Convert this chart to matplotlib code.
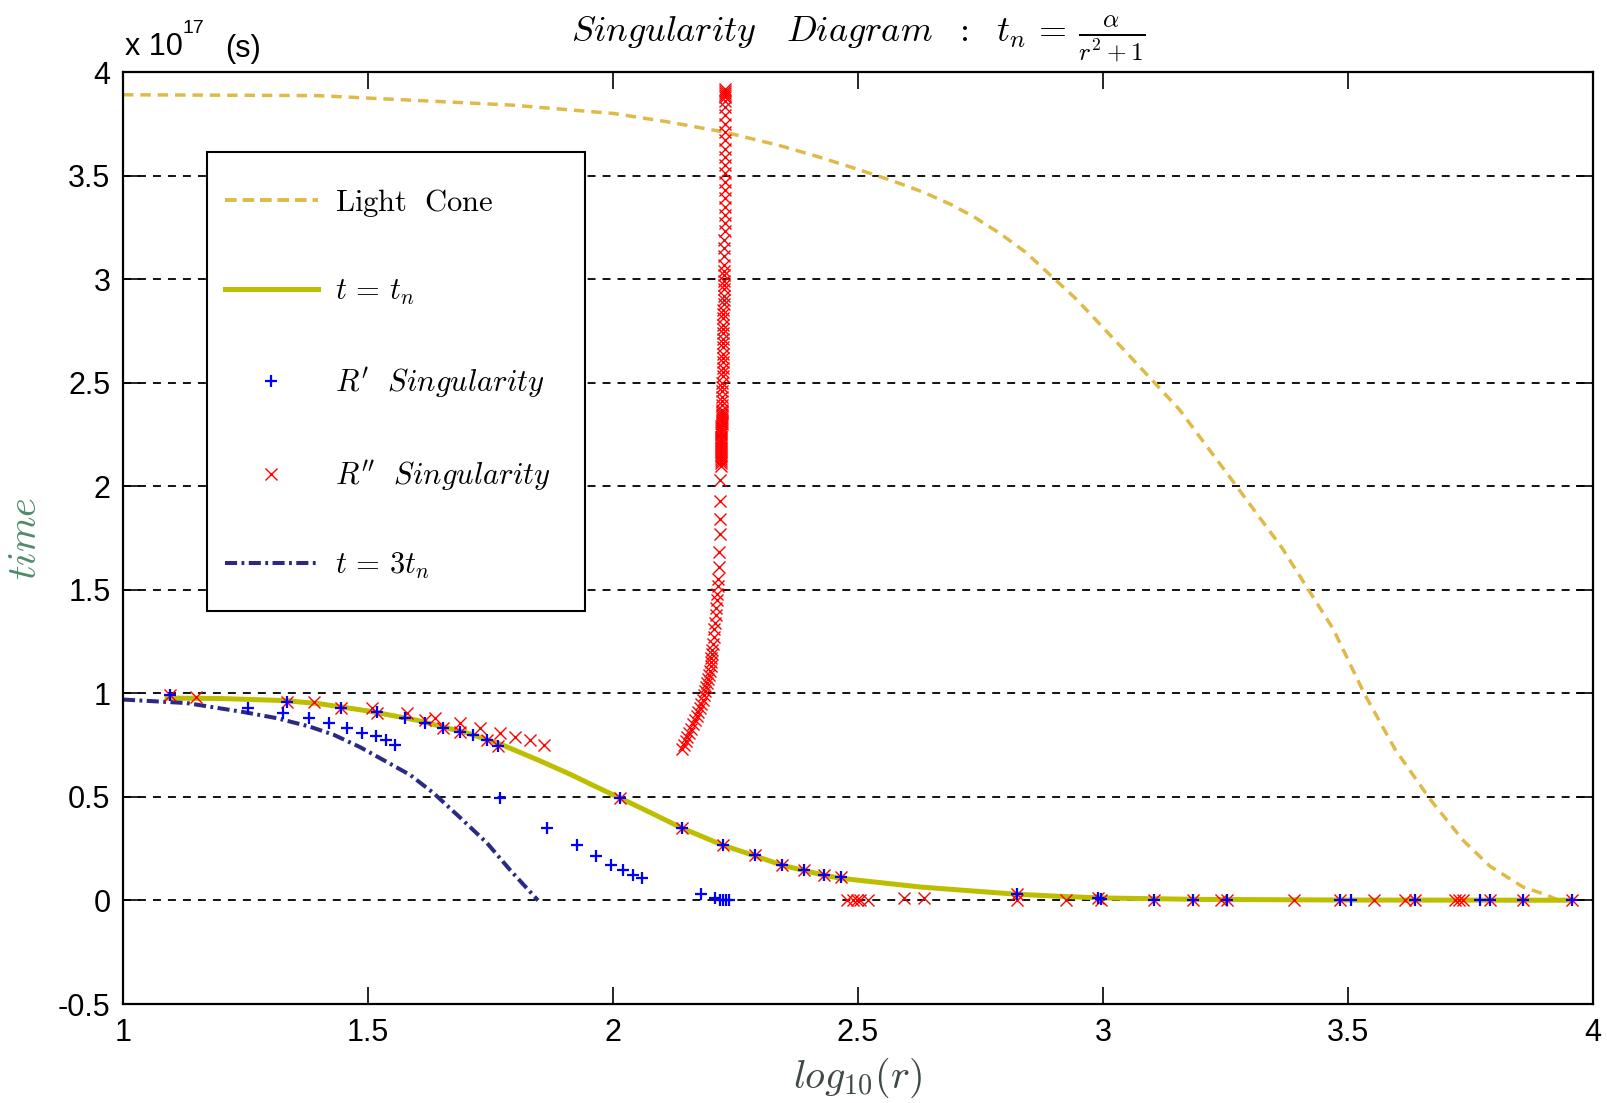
import matplotlib
matplotlib.use('Agg')
import matplotlib.pyplot as plt
from matplotlib.lines import Line2D
from matplotlib.patches import Rectangle

plt.rcParams['mathtext.fontset'] = 'cm'
plt.rcParams['font.family'] = ['Liberation Sans', 'DejaVu Sans']

# ---------------- data ----------------
x_ticks = [1, 1.5, 2, 2.5, 3, 3.5, 4]
x_tick_labels = ['1', '1.5', '2', '2.5', '3', '3.5', '4']
y_ticks = [-0.5, 0, 0.5, 1, 1.5, 2, 2.5, 3, 3.5, 4]
y_tick_labels = ['-0.5', '0', '0.5', '1', '1.5', '2', '2.5', '3', '3.5', '4']

# Light cone (units of 1e17 s)
lc_x = [1.0, 1.398, 1.795, 2.0, 2.11, 2.227, 2.34, 2.42, 2.5, 2.57, 2.633,
        2.69, 2.737, 2.79, 2.842, 2.947, 3.05, 3.156, 3.26, 3.366, 3.47,
        3.533, 3.596, 3.667, 3.735, 3.79, 3.857, 3.906, 3.93]
lc_y = [3.89, 3.886, 3.84, 3.80, 3.76, 3.71, 3.645, 3.59, 3.53, 3.475, 3.42,
        3.36, 3.30, 3.22, 3.13, 2.90, 2.64, 2.37, 2.04, 1.70, 1.31,
        1.00, 0.73, 0.49, 0.29, 0.165, 0.065, 0.026, 0.0]

# t = t_n
tn_x = [1.09, 1.2, 1.33, 1.4, 1.5, 1.6, 1.7, 1.77, 1.85, 1.912, 1.96, 2.014,
        2.08, 2.14, 2.224, 2.29, 2.345, 2.39, 2.43, 2.465, 2.53, 2.627, 2.71,
        2.824, 2.91, 3.0, 3.2, 3.5, 3.957]
tn_y = [0.977, 0.975, 0.965, 0.95, 0.915, 0.87, 0.81, 0.755, 0.675, 0.61,
        0.555, 0.495, 0.42, 0.35, 0.267, 0.215, 0.17, 0.145, 0.122, 0.107,
        0.09, 0.065, 0.05, 0.03, 0.02, 0.012, 0.005, 0.002, 0.001]

# t = 3 t_n
t3_x = [1.0, 1.13, 1.245, 1.314, 1.38, 1.43, 1.484, 1.539, 1.586, 1.633,
        1.688, 1.743, 1.79, 1.847]
t3_y = [0.97, 0.953, 0.91, 0.88, 0.84, 0.80, 0.74, 0.668, 0.606, 0.52,
        0.40, 0.277, 0.147, 0.0]

# R' singularity (blue +)
rp_x = [1.096, 1.255, 1.327, 1.335, 1.38, 1.42, 1.445, 1.457, 1.488, 1.516,
        1.518, 1.537, 1.555, 1.576, 1.616, 1.653, 1.688, 1.714, 1.743, 1.765,
        1.769, 1.865, 1.927, 1.965, 1.996, 2.02, 2.04, 2.06, 2.014, 2.14,
        2.18, 2.208, 2.218, 2.224, 2.23, 2.236, 2.224, 2.29, 2.345, 2.39,
        2.43, 2.465, 2.824, 2.99, 2.995, 3.104, 3.184, 3.253, 3.484, 3.506,
        3.637, 3.77, 3.79, 3.857, 3.957]
rp_y = [0.99, 0.93, 0.905, 0.96, 0.88, 0.857, 0.93, 0.832, 0.81, 0.794,
        0.91, 0.775, 0.75, 0.88, 0.857, 0.832, 0.813, 0.80, 0.775, 0.745,
        0.495, 0.35, 0.267, 0.214, 0.17, 0.147, 0.123, 0.108, 0.495, 0.35,
        0.03, 0.01, 0.0, 0.0, 0.0, 0.0, 0.267, 0.22, 0.17, 0.147,
        0.123, 0.113, 0.03, 0.01, 0.005, 0.003, 0.003, 0.003, 0.003, 0.003,
        0.003, 0.003, 0.003, 0.003, 0.003]

# R'' singularity (red x), scattered points
rpp_x = [1.096, 1.15, 1.335, 1.39, 1.445, 1.508, 1.518, 1.58, 1.616, 1.637,
         1.653, 1.688, 1.688, 1.729, 1.743, 1.769, 1.80, 1.83, 1.86, 1.765,
         2.014, 2.14, 2.224, 2.29, 2.345, 2.39, 2.43, 2.465,
         2.478, 2.49, 2.497, 2.504, 2.52, 2.594, 2.635,
         2.824, 2.824, 2.924, 2.99, 2.995, 3.104, 3.184, 3.24, 3.253, 3.39,
         3.484, 3.553, 3.616, 3.637, 3.718, 3.727, 3.735, 3.79, 3.857, 3.957]
rpp_y = [0.99, 0.98, 0.96, 0.96, 0.93, 0.93, 0.905, 0.905, 0.87, 0.88,
         0.832, 0.857, 0.813, 0.832, 0.775, 0.81, 0.79, 0.775, 0.75, 0.745,
         0.495, 0.35, 0.267, 0.22, 0.17, 0.147, 0.123, 0.113,
         0.0, 0.0, 0.0, 0.0, 0.0, 0.01, 0.01,
         0.03, 0.0, 0.0, 0.01, 0.0, 0.0, 0.0, 0.0, 0.0, 0.0,
         0.0, 0.0, 0.0, 0.0, 0.0, 0.0, 0.0, 0.0, 0.0, 0.0]

# R'' singularity, near-vertical branch around log10(r) ~ 2.2
col_x = [2.229, 2.229, 2.229, 2.229, 2.229, 2.229, 2.229, 2.229, 2.229, 2.229,
         2.229, 2.229, 2.228, 2.228, 2.228, 2.228, 2.228, 2.228, 2.228, 2.228,
         2.228, 2.228, 2.227, 2.227, 2.227, 2.227, 2.227, 2.227, 2.226, 2.226,
         2.226, 2.226, 2.226, 2.226, 2.225, 2.225, 2.225, 2.225, 2.225, 2.225,
         2.225, 2.224, 2.224, 2.224, 2.224, 2.224, 2.224, 2.224, 2.224, 2.223,
         2.223, 2.223, 2.223, 2.223, 2.223, 2.222, 2.222, 2.222, 2.222, 2.222,
         2.222, 2.222, 2.222, 2.221, 2.221, 2.221, 2.221, 2.221, 2.221, 2.221,
         2.221, 2.221, 2.220, 2.220, 2.220, 2.220, 2.220, 2.220, 2.220, 2.220,
         2.220, 2.220, 2.220, 2.219, 2.219, 2.218, 2.218, 2.217, 2.216, 2.215,
         2.214, 2.213, 2.212, 2.211, 2.210, 2.208, 2.207, 2.206, 2.205, 2.203,
         2.202, 2.201, 2.200, 2.199, 2.197, 2.196, 2.194, 2.192, 2.190, 2.188,
         2.186, 2.183, 2.180, 2.177, 2.174, 2.171, 2.168, 2.164, 2.160, 2.156,
         2.152, 2.148, 2.144, 2.140]
col_y = [3.92, 3.91, 3.90, 3.89, 3.88, 3.86, 3.83, 3.79, 3.75, 3.71,
         3.67, 3.63, 3.59, 3.55, 3.51, 3.47, 3.43, 3.39, 3.35, 3.31,
         3.27, 3.23, 3.19, 3.15, 3.11, 3.07, 3.04, 3.02, 2.99, 2.97,
         2.95, 2.92, 2.90, 2.88, 2.85, 2.83, 2.81, 2.78, 2.76, 2.74,
         2.71, 2.69, 2.67, 2.64, 2.62, 2.60, 2.57, 2.55, 2.53, 2.50,
         2.48, 2.46, 2.43, 2.41, 2.39, 2.37, 2.36, 2.35, 2.34, 2.33,
         2.32, 2.31, 2.30, 2.29, 2.28, 2.27, 2.26, 2.25, 2.24, 2.23,
         2.22, 2.21, 2.20, 2.19, 2.18, 2.17, 2.16, 2.15, 2.14, 2.13,
         2.12, 2.11, 2.10, 2.03, 1.93, 1.84, 1.77, 1.68, 1.61, 1.55,
         1.52, 1.48, 1.45, 1.41, 1.38, 1.34, 1.31, 1.27, 1.24, 1.21,
         1.19, 1.17, 1.15, 1.13, 1.11, 1.09, 1.07, 1.05, 1.03, 1.01,
         0.99, 0.97, 0.95, 0.93, 0.91, 0.89, 0.87, 0.85, 0.83, 0.81,
         0.79, 0.77, 0.75, 0.73]

legend_labels = [r'$\mathrm{Light\ \ Cone}$', r'$t\,=\,t_n$',
                 r"$R'\ \ Singularity$", r"$R''\ \ Singularity$",
                 r'$t\,=\,3t_n$']

# ---------------- styles ----------------
C_LC = '#E0BA48'
C_TN = '#BEBE00'
C_T3 = '#2A2A85'
LC_DASH = (3.0, 2.0)
T3_DASH = (3.0, 1.1, 0.7, 1.1)

W, H = 1608, 1103
fig = plt.figure(figsize=(W / 100, H / 100), dpi=100)
ax = fig.add_axes([123 / W, 1 - 1004 / H, 1470 / W, 932 / H])

ax.set_xlim(1, 4)
ax.set_ylim(-0.5, 4)
ax.set_xticks(x_ticks)
ax.set_xticklabels(x_tick_labels)
ax.set_yticks(y_ticks)
ax.set_yticklabels(y_tick_labels)
ax.tick_params(direction='in', length=12, width=1.2, top=True, right=True,
               labelsize=22)
ax.tick_params(axis='x', pad=10)
ax.tick_params(axis='y', pad=9)
for s in ax.spines.values():
    s.set_linewidth(1.6)
ax.set_axisbelow(True)
ax.yaxis.grid(True, linestyle=(0, (4.4, 3.9)), color='black', lw=1.3)

ax.plot(lc_x, lc_y, color=C_LC, lw=2.5, dashes=LC_DASH, zorder=2)
ax.plot(tn_x, tn_y, color=C_TN, lw=3.6, zorder=2)
ax.plot(t3_x, t3_y, color=C_T3, lw=2.9, dashes=T3_DASH, zorder=2)
ax.plot(rpp_x, rpp_y, ls='none', marker='x', color='red', ms=9, mew=1.0, zorder=3)
ax.plot(col_x, col_y, ls='none', marker='x', color='red', ms=9, mew=1.0, zorder=3)
ax.plot(rp_x, rp_y, ls='none', marker='+', color='blue', ms=9, mew=1.6, zorder=3.5)

# legend box
ax.add_patch(Rectangle((0.057, 0.422), 0.257, 0.492, transform=ax.transAxes,
                       facecolor='white', edgecolor='black', lw=1.5, zorder=6))
handles = [
    Line2D([], [], color=C_LC, lw=2.8, dashes=(3.0, 1.5)),
    Line2D([], [], color=C_TN, lw=3.6),
    Line2D([], [], ls='none', marker='+', color='blue', ms=9, mew=1.6),
    Line2D([], [], ls='none', marker='x', color='red', ms=9, mew=1.0),
    Line2D([], [], color=C_T3, lw=2.9, dashes=T3_DASH),
]
leg = ax.legend(handles, legend_labels, loc='upper left',
                bbox_to_anchor=(0.057, 0.896), frameon=False, fontsize=22,
                handlelength=3.05, handletextpad=0.55, labelspacing=1.9,
                borderpad=0.59, borderaxespad=0)
leg.set_zorder(7)

ax.set_title(r'$Singularity\ \ \ Diagram\ \ :\ \ t_n\, =\, \frac{\alpha}{r^2+1}$',
             fontsize=26, pad=22)
ax.set_xlabel(r'$log_{10}(r)$', fontsize=29, color='#404a44')
ax.xaxis.set_label_coords(0.5, -0.056)
ax.set_ylabel(r'$time$', fontsize=29, color='#4E8A6A')
ax.yaxis.set_label_coords(-0.054, 0.5)

# exponent / unit label
ax.annotate('x 10', xy=(0, 1), xycoords='axes fraction', xytext=(1.4, 12.2),
            textcoords='offset points', fontsize=22, ha='left', va='baseline')
ax.annotate('17', xy=(0, 1), xycoords='axes fraction', xytext=(43.2, 28),
            textcoords='offset points', fontsize=14, ha='left', va='baseline')
ax.annotate('(s)', xy=(0, 1), xycoords='axes fraction', xytext=(73.4, 10.8),
            textcoords='offset points', fontsize=22, ha='left', va='baseline')

fig.savefig('out.png', dpi=100)
